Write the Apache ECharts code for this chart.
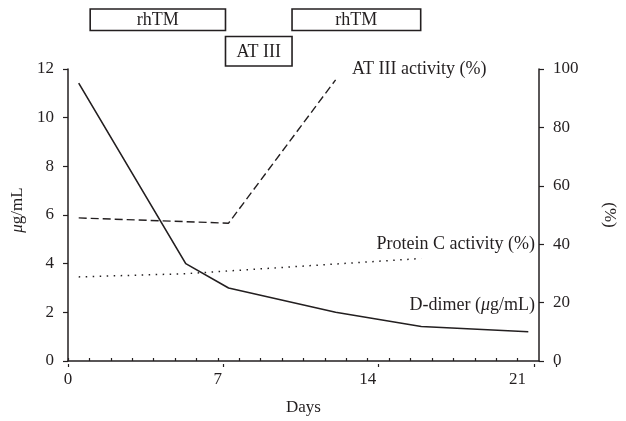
<!DOCTYPE html>
<html><head><meta charset="utf-8">
<script src="https://cdn.jsdelivr.net/npm/echarts@6/dist/echarts.min.js"></script>
<style>html,body{margin:0;padding:0;background:#fff}#c{width:626px;height:421px}</style>
</head><body><div id="c"></div>
<script>
// Data
const dDimerDays = [0.5, 5.5, 7.5, 12.5, 16.5, 21.5];
const dDimerValues = [11.42, 4.0, 3.0, 2.0, 1.42, 1.2];          // μg/mL (left axis)
const at3Days = [0.5, 7.5, 12.5];
const at3Values = [49, 47.2, 96.3];                                // % (right axis)
const protCDays = [0.5, 5.5, 16.5];
const protCValues = [28.8, 29.9, 35.1];                            // % (right axis)
const xTickLabels = [0, 7, 14, 21];
const boxLabels = ['rhTM', 'AT III', 'rhTM'];
const boxStarts = [1.0, 7.1, 10.1];
const boxEnds = [7.1, 10.1, 15.9];
const boxRows = [0, 1, 0];

const INK = '#231f20';
const FONT = '"Liberation Serif", "DejaVu Serif", serif';
const FS = 17;
const FS2 = 18;
const rowSpans = [[0, 21.5], [27.5, 57]];

const pairs = (xs, ys) => xs.map((x, i) => [x, ys[i]]);
const boxData = boxLabels.map((l, i) => [boxStarts[i], boxEnds[i], boxRows[i], l]);

const chart = echarts.init(document.getElementById('c'), null, {renderer: 'canvas'});
const axisLine = {show: true, lineStyle: {color: INK, width: 1.5}};
const lbl = {color: INK, fontFamily: FONT, fontSize: FS};

chart.setOption({
  animation: false,
  backgroundColor: '#fff',
  grid: [
    {left: 68, right: 70, top: 69, bottom: 57},
    {left: 68, right: 70, top: 9, height: 57},
    {left: 68, right: 70, top: 69, bottom: 57}
  ],
  xAxis: [
    {gridIndex: 0, type: 'value', min: 0, max: 22, interval: 1,
      axisLine: axisLine,
      axisTick: {show: true, inside: true, length: 3, lineStyle: {color: INK, width: 1.2}},
      axisLabel: Object.assign({margin: 10, showMaxLabel: false,
        formatter: v => xTickLabels.indexOf(v) >= 0 ? String(v) : ''}, lbl),
      splitLine: {show: false},
      name: 'Days', nameLocation: 'middle', nameGap: 38,
      nameTextStyle: {color: INK, fontFamily: FONT, fontSize: FS}},
    {gridIndex: 1, type: 'value', min: 0, max: 22, show: false},
    {gridIndex: 2, type: 'value', min: 0, max: 22, interval: 7,
      axisLine: {show: false},
      axisTick: {show: true, inside: false, length: 3, lineStyle: {color: INK, width: 1.2}},
      axisLabel: {show: false}, splitLine: {show: false}}
  ],
  yAxis: [
    {gridIndex: 0, type: 'value', min: 0, max: 12, interval: 2,
      axisLine: axisLine,
      axisTick: {show: true, inside: false, length: 5, lineStyle: {color: INK, width: 1.2}},
      axisLabel: Object.assign({margin: 14}, lbl),
      splitLine: {show: false},
      name: '{i|μ}g/mL', nameLocation: 'middle', nameGap: 39, nameRotate: 90,
      nameTextStyle: {color: INK, fontFamily: FONT, fontSize: FS, padding: [0, 0, 0, 10],
        rich: {i: {fontStyle: 'italic', color: INK, fontFamily: FONT, fontSize: FS}}}},
    {gridIndex: 0, type: 'value', min: 0, max: 100, interval: 20, position: 'right',
      axisLine: axisLine,
      axisTick: {show: true, inside: false, length: 5, lineStyle: {color: INK, width: 1.2}},
      axisLabel: Object.assign({margin: 14}, lbl),
      splitLine: {show: false},
      name: '(%)', nameLocation: 'middle', nameGap: 62, nameRotate: -90,
      nameTextStyle: {color: INK, fontFamily: FONT, fontSize: FS}},
    {gridIndex: 1, type: 'value', min: 0, max: 57, inverse: true, show: false},
    {gridIndex: 2, type: 'value', min: 0, max: 1, show: false}
  ],
  series: [
    {name: 'D-dimer', type: 'line', xAxisIndex: 0, yAxisIndex: 0,
      data: pairs(dDimerDays, dDimerValues), symbol: 'none',
      lineStyle: {color: INK, width: 1.6}},
    {name: 'AT III', type: 'line', xAxisIndex: 0, yAxisIndex: 1,
      data: pairs(at3Days, at3Values), symbol: 'none',
      lineStyle: {color: INK, width: 1.4, type: [8, 4]}},
    {name: 'Protein C', type: 'line', xAxisIndex: 0, yAxisIndex: 1,
      data: pairs(protCDays, protCValues), symbol: 'none',
      lineStyle: {color: INK, width: 1.5, type: [1.5, 5.5]}},
    {name: 'Treatments', type: 'custom', xAxisIndex: 1, yAxisIndex: 2,
      data: boxData,
      renderItem: function (params, api) {
        const s = api.value(0), e = api.value(1), r = api.value(2);
        const span = rowSpans[r];
        const p1 = api.coord([s, span[0]]);
        const p2 = api.coord([e, span[1]]);
        const label = boxData[params.dataIndex][3];
        return {type: 'group', children: [
          {type: 'rect', shape: {x: p1[0], y: p1[1], width: p2[0] - p1[0], height: p2[1] - p1[1]},
            style: {fill: '#fff', stroke: INK, lineWidth: 1.6}},
          {type: 'text', style: {text: label, x: (p1[0] + p2[0]) / 2, y: (p1[1] + p2[1]) / 2 + 1,
            textAlign: 'center', textVerticalAlign: 'middle',
            font: FS2 + 'px ' + FONT, fill: INK}}
        ]};
      }}
  ],
  graphic: [
    {type: 'text', left: 352, top: 60,
      style: {text: 'AT III activity (%)', font: FS2 + 'px ' + FONT, fill: INK}},
    {type: 'text', right: 91, top: 235,
      style: {text: 'Protein C activity (%)', font: FS2 + 'px ' + FONT, fill: INK}},
    {type: 'text', right: 91, top: 296,
      style: {text: 'D-dimer ({i|μ}g/mL)', font: FS2 + 'px ' + FONT, fill: INK,
        rich: {i: {fontStyle: 'italic', fontFamily: FONT, fontSize: FS2, fill: INK}}}}
  ]
});
</script></body></html>
